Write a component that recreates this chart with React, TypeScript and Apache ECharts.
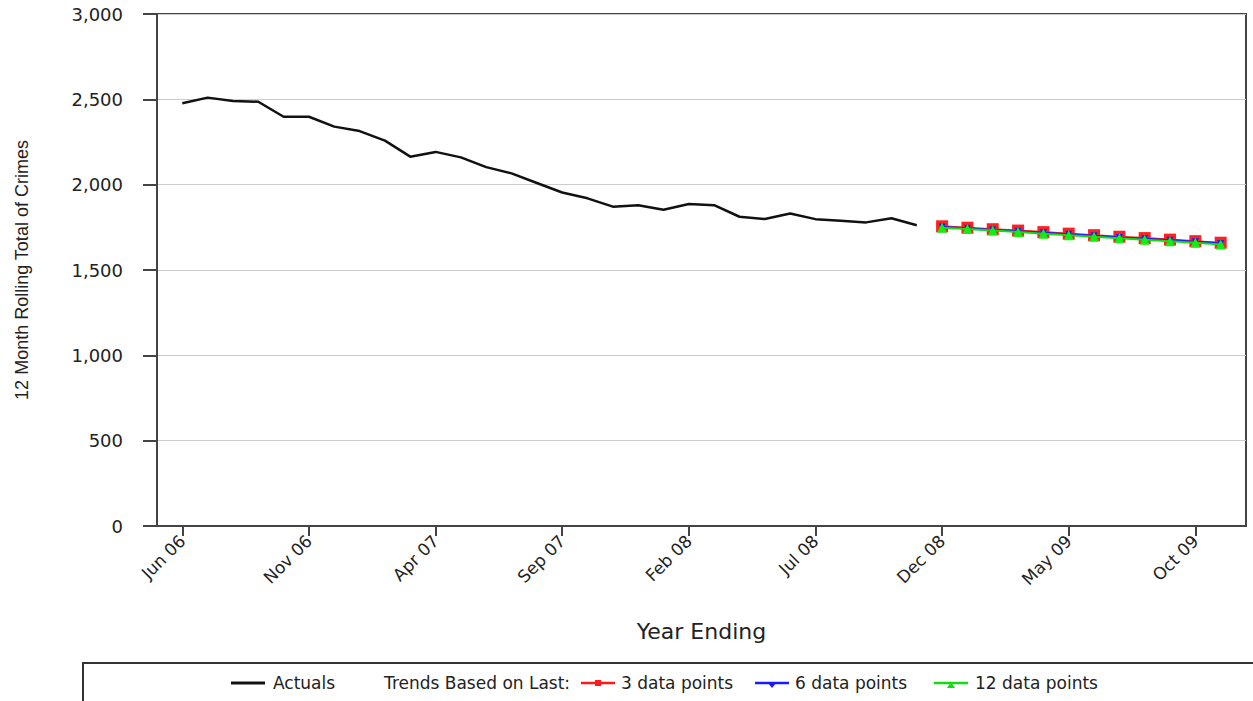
import React, { useEffect, useRef } from "react";
import * as echarts from "echarts";

const categories = [
  "May 06", "Jun 06", "Jul 06", "Aug 06", "Sep 06", "Oct 06", "Nov 06", "Dec 06",
  "Jan 07", "Feb 07", "Mar 07", "Apr 07", "May 07", "Jun 07", "Jul 07", "Aug 07",
  "Sep 07", "Oct 07", "Nov 07", "Dec 07", "Jan 08", "Feb 08", "Mar 08", "Apr 08",
  "May 08", "Jun 08", "Jul 08", "Aug 08", "Sep 08", "Oct 08", "Nov 08", "Dec 08",
  "Jan 09", "Feb 09", "Mar 09", "Apr 09", "May 09", "Jun 09", "Jul 09", "Aug 09",
  "Sep 09", "Oct 09", "Nov 09", "Dec 09",
];

// Jun 06 .. Nov 08
const actuals = [
  2477, 2510, 2490, 2486, 2398, 2398, 2340, 2314, 2258, 2164,
  2192, 2160, 2103, 2066, 2010, 1954, 1920, 1871, 1880, 1853,
  1887, 1880, 1812, 1799, 1831, 1798, 1789, 1779, 1803, 1762,
];

// Dec 08 .. Nov 09
const trend3 = [1756, 1748, 1739, 1731, 1722, 1713, 1704, 1695, 1687, 1678, 1669, 1660];
const trend6 = [1752, 1744, 1735, 1727, 1718, 1709, 1700, 1691, 1683, 1674, 1665, 1655];
const trend12 = [1748, 1740, 1731, 1722, 1713, 1704, 1695, 1686, 1677, 1668, 1659, 1649];

const yTicks = { min: 0, max: 3000, interval: 500 };

const FONT = "DejaVu Sans";

export default function App() {
  const ref = useRef<HTMLDivElement>(null);

  useEffect(() => {
    if (!ref.current) return;
    const chart = echarts.init(ref.current, null, { renderer: "svg" });

    const lead = 1; // May 06 padding
    const actualData = [
      ...Array(lead).fill(null),
      ...actuals,
      ...Array(categories.length - lead - actuals.length).fill(null),
    ];
    const trendStart = lead + actuals.length;
    const pad = (arr: number[]) => [
      ...Array(trendStart).fill(null),
      ...arr,
      ...Array(categories.length - trendStart - arr.length).fill(null),
    ];

    const showIdx = (idx: number) => (idx - 1) % 5 === 0 && idx >= 1;
    const legendY = 683;
    const txt = (x: number, s: string) => ({
      type: "text",
      x,
      y: legendY,
      style: { text: s, font: `17px "${FONT}"`, fill: "#222", verticalAlign: "middle", align: "left" },
    });
    const lineEl = (x1: number, x2: number, color: string, w = 2.5) => ({
      type: "line",
      shape: { x1, y1: legendY, x2, y2: legendY },
      style: { stroke: color, lineWidth: w },
    });

    chart.setOption({
      animation: false,
      backgroundColor: "#ffffff",
      grid: {
        left: 157,
        right: 7,
        top: 14,
        bottom: 175,
        show: true,
        borderColor: "#444",
        borderWidth: 2,
        backgroundColor: "transparent",
      },
      xAxis: {
        type: "category",
        data: categories,
        boundaryGap: false,
        name: "Year Ending",
        nameLocation: "middle",
        nameGap: 94,
        nameTextStyle: { fontFamily: FONT, fontSize: 22, color: "#222" },
        axisLine: { lineStyle: { color: "#444", width: 2 } },
        axisTick: {
          show: true,
          length: 10,
          interval: (idx: number) => showIdx(idx),
          lineStyle: { color: "#444", width: 2 },
        },
        axisLabel: {
          interval: (idx: number) => showIdx(idx),
          rotate: 45,
          margin: 12,
          fontFamily: FONT,
          fontSize: 17,
          color: "#222",
        },
        splitLine: { show: false },
      },
      yAxis: {
        type: "value",
        min: yTicks.min,
        max: yTicks.max,
        interval: yTicks.interval,
        name: "12 Month Rolling Total of Crimes",
        nameLocation: "middle",
        nameGap: 126,
        nameRotate: 90,
        nameTextStyle: { fontFamily: "Liberation Sans", fontSize: 18, color: "#222" },
        axisLine: { show: true, lineStyle: { color: "#444", width: 2 } },
        axisTick: { show: true, length: 14, lineStyle: { color: "#444", width: 2 } },
        axisLabel: {
          margin: 34,
          fontFamily: FONT,
          fontSize: 18,
          color: "#222",
          formatter: (v: number) => v.toLocaleString("en-US"),
        },
        splitLine: { show: true, lineStyle: { color: "#cccccc", width: 1 } },
      },
      series: [
        {
          name: "Actuals",
          type: "line",
          data: actualData,
          showSymbol: false,
          symbol: "none",
          lineStyle: { color: "#111", width: 2.5 },
          itemStyle: { color: "#111" },
          connectNulls: false,
          z: 3,
        },
        {
          name: "3 data points",
          type: "line",
          data: pad(trend3),
          symbol: "rect",
          symbolSize: 12,
          lineStyle: { color: "#ff1a1a", width: 2 },
          itemStyle: { color: "#ff2020" },
          z: 3,
        },
        {
          name: "6 data points",
          type: "line",
          data: pad(trend6),
          symbol: "triangle",
          symbolRotate: 180,
          symbolSize: 7,
          lineStyle: { color: "#1a1aff", width: 2 },
          itemStyle: { color: "#1a1aff" },
          z: 4,
        },
        {
          name: "12 data points",
          type: "line",
          data: pad(trend12),
          symbol: "triangle",
          symbolSize: 10,
          lineStyle: { color: "#11dd11", width: 2 },
          itemStyle: { color: "#11ee11" },
          z: 5,
        },
      ],
      graphic: [
        {
          type: "rect",
          shape: { x: 83, y: 663, width: 1200, height: 60 },
          style: { fill: "#ffffff", stroke: "#333", lineWidth: 2 },
        },
        lineEl(231, 265, "#111", 3),
        txt(273, "Actuals"),
        txt(384, "Trends Based on Last:"),
        lineEl(581, 615, "#ff1a1a"),
        {
          type: "rect",
          shape: { x: 595, y: legendY - 3, width: 6, height: 6 },
          style: { fill: "#ff1a1a" },
        },
        txt(621, "3 data points"),
        lineEl(755, 789, "#1a1aff"),
        {
          type: "polygon",
          shape: { points: [[768, legendY], [776, legendY], [772, legendY + 5]] },
          style: { fill: "#1a1aff" },
        },
        txt(795, "6 data points"),
        lineEl(934, 968, "#11dd11"),
        {
          type: "polygon",
          shape: { points: [[947, legendY + 5], [955, legendY + 5], [951, legendY - 1]] },
          style: { fill: "#11dd11" },
        },
        txt(975, "12 data points"),
      ],
    });

    return () => chart.dispose();
  }, []);

  return (
    <div
      ref={ref}
      style={{ position: "fixed", left: 0, top: 0, width: 1253, height: 701, background: "#fff" }}
    />
  );
}
